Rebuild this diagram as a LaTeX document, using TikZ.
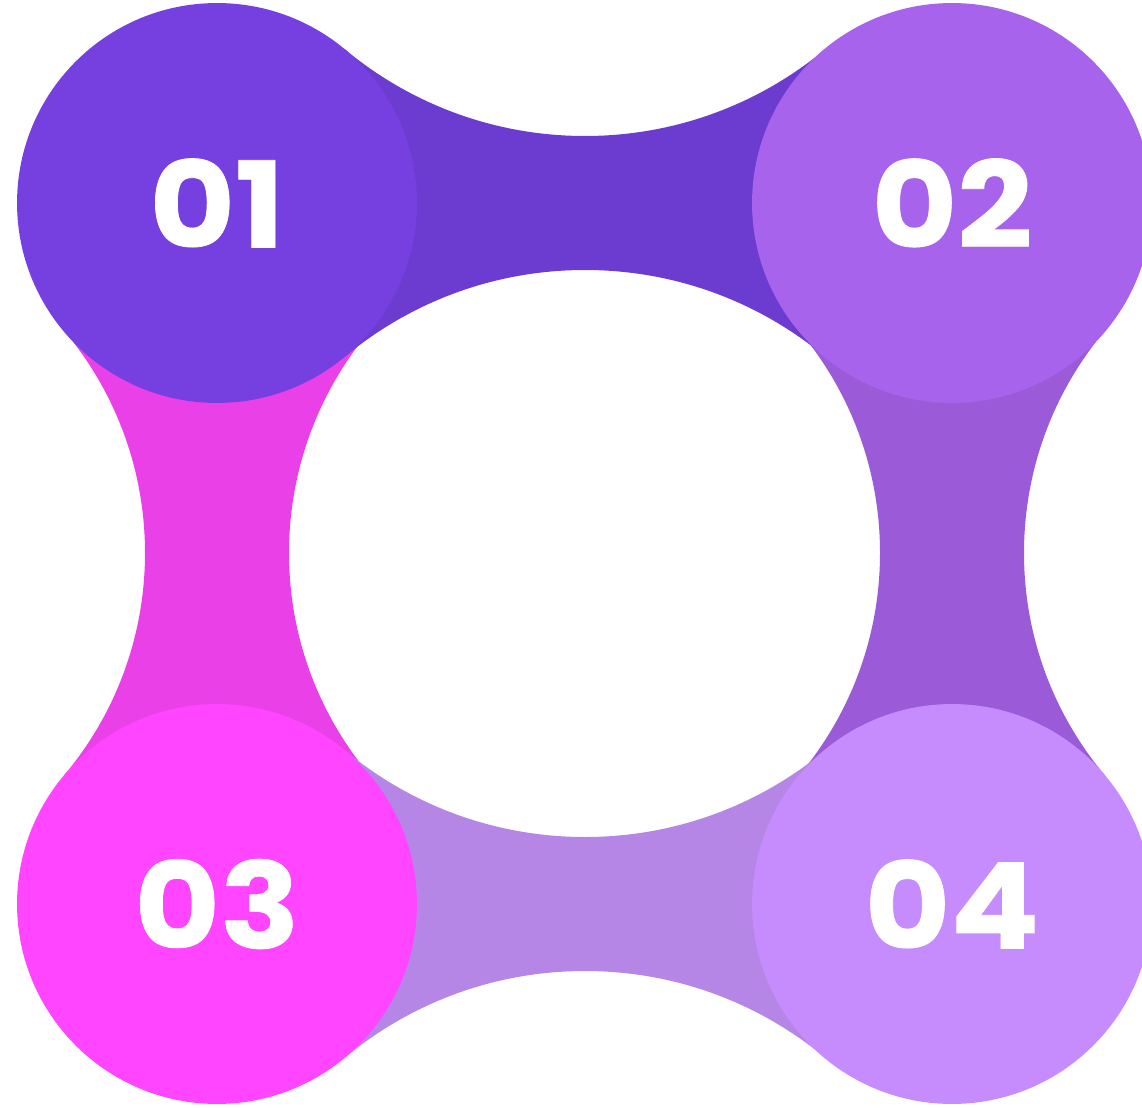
\documentclass[tikz,border=0pt]{standalone}
\usepackage{fontspec}
\setmainfont{Poppins}[FakeStretch=1.1, BoldFeatures={FakeBold=0.6}]
\usetikzlibrary{calc}

\definecolor{stepA}{HTML}{763FE0}
\definecolor{stepB}{HTML}{A763EC}
\definecolor{stepC}{HTML}{FF45FF}
\definecolor{stepD}{HTML}{C68CFE}
\definecolor{linkTop}{HTML}{6B3CCF}
\definecolor{linkRight}{HTML}{9B5BD9}
\definecolor{linkLeft}{HTML}{EA40E8}
\definecolor{linkBottom}{HTML}{B586E6}

% one connecting band: colour, end a, end b, outer centre, inner centre, radius
\newcommand{\linkband}[6]{%
  \begin{scope}[even odd rule]
    \clip (-2000,-2000) rectangle (3000,3000)
          (#4) circle[radius=#6] (#5) circle[radius=#6];
    \fill[#1] (#2) -- ($(#2)!5cm!(#4)$) -- ($(#3)!5cm!(#4)$) -- (#3)
          -- ($(#3)!5cm!(#5)$) -- ($(#2)!5cm!(#5)$) -- cycle;
  \end{scope}
}

\begin{document}
\begin{tikzpicture}[
    x=0.02cm, y=-0.02cm,
    disc/.style={circle, minimum size=8cm, inner sep=0pt, text=white,
                 font=\fontsize{68}{68}\selectfont\bfseries},
]
\useasboundingbox (0,0) rectangle (1142,1108);
\clip (0,0) rectangle (1142,1108);

% Circle centres
\coordinate (p1) at (217,203);
\coordinate (p2) at (952,203);
\coordinate (p3) at (217,904);
\coordinate (p4) at (952,904);

% Concave cut-outs of the bands
\coordinate (topout) at (585,-240);
\coordinate (topin)  at (585,646);
\coordinate (botin)  at (585,461);
\coordinate (botout) at (585,1347);
\coordinate (lftout) at (-201,553);
\coordinate (lftin)  at (635,553);
\coordinate (rgtin)  at (534,553);
\coordinate (rgtout) at (1370,553);

% Vertical bands first, horizontal ones on top
\linkband{linkLeft}{p1}{p3}{lftout}{lftin}{346}
\linkband{linkRight}{p2}{p4}{rgtout}{rgtin}{346}
\linkband{linkTop}{p1}{p2}{topout}{topin}{376}
\linkband{linkBottom}{p3}{p4}{botout}{botin}{376}

% Numbered circles
\node[disc, fill=stepA] (n1) at (p1) {01};
\node[disc, fill=stepB] (n2) at (p2) {02};
\node[disc, fill=stepC] (n3) at (p3) {03};
\node[disc, fill=stepD] (n4) at (p4) {04};

\end{tikzpicture}
\end{document}
